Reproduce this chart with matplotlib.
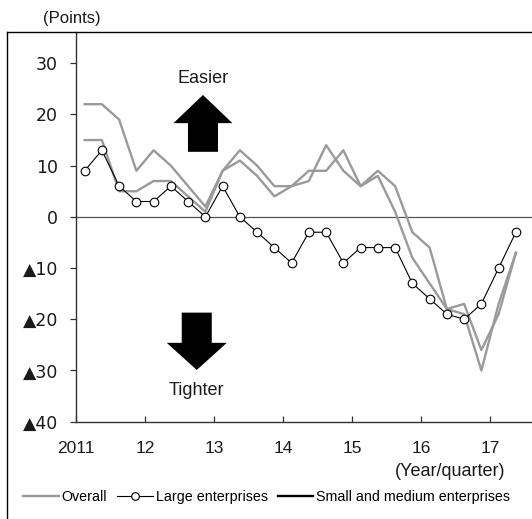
"""
Lending attitude DI by firm size, 2011-2017 (quarterly).
"""
import numpy as np
import matplotlib
matplotlib.use("Agg")
import matplotlib.pyplot as plt
from matplotlib.patches import FancyArrow
from matplotlib.lines import Line2D

plt.rcParams["font.family"] = ["Liberation Sans", "DejaVu Sans"]

# ---------------------------------------------------------------------------
# Data
# ---------------------------------------------------------------------------
years = [2011, 2012, 2013, 2014, 2015, 2016, 2017]
year_labels = ["2011", "12", "13", "14", "15", "16", "17"]
quarters = [f"{y}Q{q}" for y in years for q in (1, 2, 3, 4)][:26]

overall = [15, 15, 5, 5, 7, 7, 4, 1, 9, 11, 8, 4, 6,
           7, 14, 9, 6, 8, 1, -8, -13, -18, -19, -30, -17, -7]
large = [9, 13, 6, 3, 3, 6, 3, 0, 6, 0, -3, -6, -9,
         -3, -3, -9, -6, -6, -6, -13, -16, -19, -20, -17, -10, -3]
sme = [22, 22, 19, 9, 13, 10, 6, 2, 9, 13, 10, 6, 6,
       9, 9, 13, 6, 9, 6, -3, -6, -18, -17, -26, -19, -7]

y_ticks = [30, 20, 10, 0, -10, -20, -30, -40]
y_tick_labels = ["30", "20", "10", "0", "▲10", "▲20", "▲30", "▲40"]

GRAY = "#9a9a9a"
TEXT = "#1a1a1a"


def quarter_pos(q: str) -> float:
    """Centre of a quarter on a continuous year axis."""
    y, n = q.split("Q")
    return int(y) + (int(n) - 0.5) / 4


x = np.array([quarter_pos(q) for q in quarters])

# ---------------------------------------------------------------------------
# Figure
# ---------------------------------------------------------------------------
W, H = 532, 519
fig = plt.figure(figsize=(W / 100, H / 100), dpi=100)
ax = fig.add_axes([76 / W, (H - 421.7) / H, 1 - 76 / W, (421.7 - 32) / H])

ax.plot(x, overall, color=GRAY, lw=1.7, zorder=2)
ax.plot(x, sme, color=GRAY, lw=1.7, zorder=2)
ax.plot(x, large, color="black", lw=0.8, marker="o", ms=6.2,
        mfc="white", mec="black", mew=0.8, zorder=3)
ax.axhline(0, color="#555555", lw=0.9, zorder=1)

ax.set_xlim(2011, 2011 + 456 / 69)
ax.set_ylim(-40, 36.1)
ax.set_xticks(years)
ax.set_xticklabels(year_labels)
ax.set_yticks(y_ticks)
ax.set_yticklabels(y_tick_labels, family=["DejaVu Sans"])
ax.tick_params(axis="x", direction="in", length=4, width=0.9, pad=14,
               labelsize=12.5, colors="#333333", labelcolor=TEXT)
ax.tick_params(axis="y", direction="out", length=4, width=0.9, pad=9,
               labelsize=12.5, colors="#333333", labelcolor=TEXT)
for side in ("top", "right"):
    ax.spines[side].set_visible(False)
for side in ("left", "bottom"):
    ax.spines[side].set_color("#333333")
    ax.spines[side].set_linewidth(1.0)

# direction arrows
ax.add_patch(FancyArrow(2012.84, 12.7, 0, 11.1, width=0.435, head_width=0.855,
                        head_length=5.5, length_includes_head=True,
                        color="black", lw=0))
ax.add_patch(FancyArrow(2012.75, -18.7, 0, -11.2, width=0.435, head_width=0.87,
                        head_length=5.3, length_includes_head=True,
                        color="black", lw=0))
ax.text(2012.84, 27.1, "Easier", ha="center", va="center", fontsize=13, color=TEXT)
ax.text(2012.75, -33.9, "Tighter", ha="center", va="center", fontsize=13, color=TEXT)

# outer frame (left and top edges only visible)
fig.add_artist(Line2D([7 / W, 7 / W], [0, (H - 32) / H], color="black", lw=1.0))
fig.add_artist(Line2D([7 / W, 1], [(H - 32) / H, (H - 32) / H], color="black", lw=1.0))

fig.text(72 / W, (H - 19) / H, "(Points)", ha="center", va="center",
         fontsize=12, color=TEXT)
fig.text(505 / W, (H - 472) / H, "(Year/quarter)", ha="right", va="center",
         fontsize=13, color=TEXT)

handles = [
    Line2D([], [], color=GRAY, lw=1.7),
    Line2D([], [], color="black", lw=0.8, marker="o", ms=5.5, mfc="white", mew=0.8),
    Line2D([], [], color="black", lw=1.7),
]
fig.legend(handles, ["Overall", "Large enterprises", "Small and medium enterprises"],
           loc="center", bbox_to_anchor=(266.5 / W, (H - 497) / H), ncol=3, frameon=False,
           handlelength=2.5, handletextpad=0.2, columnspacing=0.7,
           borderpad=0, borderaxespad=0, fontsize=10.3)

fig.savefig("out.png", dpi=100)
plt.close(fig)
